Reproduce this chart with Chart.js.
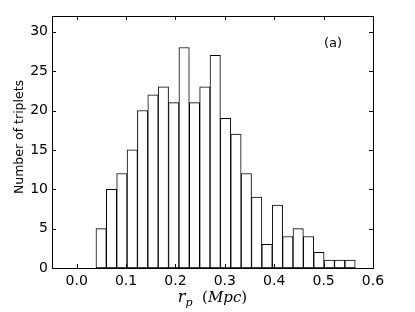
<!DOCTYPE html>
<html>
<head>
<meta charset="utf-8">
<script src="https://cdn.jsdelivr.net/npm/chart.js@4.4.0/dist/chart.umd.min.js"></script>
<style>
  body { margin: 0; background: #fff; }
  canvas { display: block; }
</style>
</head>
<body>
<canvas id="hist" width="415" height="312"></canvas>
<script>
// bin edges (25 bins)
const binEdges = [0.039, 0.060, 0.081, 0.102, 0.123, 0.144, 0.165, 0.186, 0.207, 0.228,
  0.249, 0.270, 0.291, 0.312, 0.333, 0.354, 0.375, 0.396, 0.417, 0.438,
  0.459, 0.480, 0.501, 0.522, 0.543, 0.564];
const counts = [5, 10, 12, 15, 20, 22, 23, 21, 28, 21, 23, 27, 19, 17, 12, 9, 3, 8, 4, 5, 4, 2, 1, 1, 1];
const xTicks = [0.0, 0.1, 0.2, 0.3, 0.4, 0.5, 0.6];
const yTicks = [0, 5, 10, 15, 20, 25, 30];

const points = counts.map((c, i) => ({ x: (binEdges[i] + binEdges[i + 1]) / 2, y: c }));

const TICK = 4;

// matplotlib-like frame, inward ticks on all sides, and axis titles
const framePlugin = {
  id: "frame",
  afterDraw(chart) {
    const { ctx, chartArea: a, scales } = chart;
    ctx.save();
    ctx.strokeStyle = "#000";
    ctx.lineWidth = 1;
    ctx.beginPath();
    scales.x.ticks.forEach((t) => {
      const px = Math.round(scales.x.getPixelForValue(t.value)) + 0.5;
      ctx.moveTo(px, a.bottom); ctx.lineTo(px, a.bottom - TICK);
      ctx.moveTo(px, a.top); ctx.lineTo(px, a.top + TICK);
    });
    scales.y.ticks.forEach((t) => {
      const py = Math.round(scales.y.getPixelForValue(t.value)) + 0.5;
      ctx.moveTo(a.left, py); ctx.lineTo(a.left + TICK, py);
      ctx.moveTo(a.right, py); ctx.lineTo(a.right - TICK, py);
    });
    ctx.stroke();
    ctx.strokeRect(Math.round(a.left) + 0.5, Math.round(a.top) + 0.5,
      Math.round(a.right - a.left), Math.round(a.bottom - a.top));

    // y title
    ctx.fillStyle = "#000";
    ctx.font = "12.5px 'DejaVu Sans'";
    ctx.textAlign = "center";
    ctx.textBaseline = "middle";
    ctx.translate(20, 137);
    ctx.rotate(-Math.PI / 2);
    ctx.fillText("Number of triplets", 0, 0);
    ctx.setTransform(1, 0, 0, 1, 0, 0);

    // x title: r_p (Mpc)
    const parts = [
      { t: "r", f: "italic 16px 'DejaVu Serif'", dy: 0 },
      { t: "p", f: "italic 11px 'DejaVu Serif'", dy: 4 },
      { t: "  (", f: "15px 'DejaVu Serif'", dy: 0 },
      { t: "Mpc", f: "italic 15px 'DejaVu Serif'", dy: 0 },
      { t: ")", f: "15px 'DejaVu Serif'", dy: 0 },
    ];
    ctx.textAlign = "left";
    ctx.textBaseline = "alphabetic";
    let w = 0;
    parts.forEach((p) => { ctx.font = p.f; p.w = ctx.measureText(p.t).width; w += p.w; });
    let x = (a.left + a.right) / 2 - w / 2;
    const base = 302;
    parts.forEach((p) => { ctx.font = p.f; ctx.fillText(p.t, x, base + p.dy); x += p.w; });

    // panel label
    ctx.font = "13px 'DejaVu Sans'";
    ctx.textAlign = "center";
    ctx.textBaseline = "middle";
    ctx.fillText("(a)", 333, 44);
    ctx.restore();
  },
};

new Chart(document.getElementById("hist"), {
  type: "bar",
  data: {
    datasets: [{
      data: points,
      backgroundColor: "#fff",
      borderColor: "#000",
      borderWidth: 1,
      borderSkipped: false,
      barPercentage: 1.0,
      categoryPercentage: 1.0,
    }],
  },
  options: {
    responsive: false,
    animation: false,
    layout: { padding: { top: 16, right: 42, left: 0, bottom: 0 } },
    plugins: { legend: { display: false }, tooltip: { enabled: false } },
    scales: {
      x: {
        type: "linear",
        offset: false,
        min: -0.05,
        max: 0.6,
        grid: { display: false, drawTicks: false, offset: false },
        border: { display: false },
        afterBuildTicks: (s) => { s.ticks = xTicks.map((v) => ({ value: v })); },
        afterFit: (s) => { s.height = 44; },
        ticks: {
          padding: 5,
          color: "#000",
          font: { family: "DejaVu Sans", size: 14 },
          callback: (v) => v.toFixed(1),
        },
      },
      y: {
        min: 0,
        max: 32,
        grid: { display: false, drawTicks: false },
        border: { display: false },
        afterBuildTicks: (s) => { s.ticks = yTicks.map((v) => ({ value: v })); },
        afterFit: (s) => { s.width = 52; },
        ticks: {
          padding: 4,
          color: "#000",
          font: { family: "DejaVu Sans", size: 14 },
        },
      },
    },
  },
  plugins: [framePlugin],
});
</script>
</body>
</html>
